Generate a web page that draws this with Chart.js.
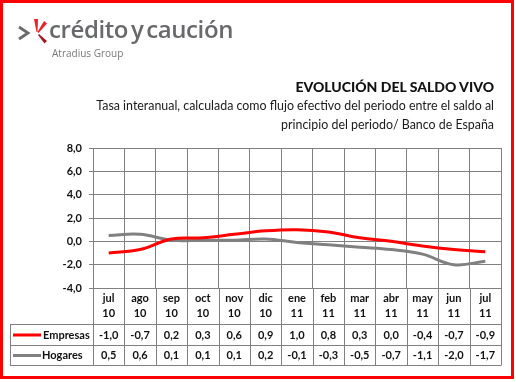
<!DOCTYPE html>
<html>
<head>
<meta charset="utf-8">
<script src="https://cdn.jsdelivr.net/npm/chart.js@4/dist/chart.umd.min.js"></script>
<style>
  html, body { margin: 0; padding: 0; background: #fff; }
  #wrap { position: relative; width: 516px; height: 382px; overflow: hidden; }
  #c { position: absolute; left: 0; top: 0; }
  #frame { position: absolute; left: 0; top: 0; width: 508px; height: 373px; border: 3px solid #ff0000; }
  #logoTxt { position: absolute; left: 49px; top: 13px; font-family: 'Open Sans', sans-serif; font-weight: 600; font-size: 24px; color: #68696b; letter-spacing: -0.4px; word-spacing: -3px; white-space: nowrap; line-height: 32px; }
  #logoSub { position: absolute; left: 52px; top: 46px; font-family: 'Open Sans', sans-serif; font-size: 10px; color: #77787a; white-space: nowrap; line-height: 14px; }
  #logoMark { position: absolute; left: 0; top: 0; }
  #title { position: absolute; right: 22px; top: 78px; font-family: 'Lato', sans-serif; font-weight: 900; font-size: 14px; color: #111; white-space: nowrap; line-height: 18px; text-align: right; }
  #sub { position: absolute; right: 22px; top: 96px; font-family: 'Lato', sans-serif; font-size: 12.4px; color: #1a1a1a; white-space: nowrap; line-height: 19px; text-align: right; }
</style>
</head>
<body>
<div id="wrap">
  <canvas id="c" width="516" height="382"></canvas>
  <svg id="logoMark" width="60" height="50">
    <polyline points="19,27 28,33 19,39" fill="none" stroke="#6a6b6d" stroke-width="2.8"/>
    <polygon points="34,19 38,19 37.5,32 36.5,32" fill="#e8222b"/>
    <polygon points="44,21 47,23.5 38.5,33 37.5,32" fill="#e8222b"/>
    <polygon points="38,35 39,34 47,41 44.5,43.5" fill="#9e1b24"/>
  </svg>
  <div id="logoTxt">crédito y caución</div>
  <div id="logoSub">Atradius Group</div>
  <div id="title">EVOLUCIÓN DEL SALDO VIVO</div>
  <div id="sub">Tasa interanual, calculada como flujo efectivo del periodo entre el saldo al<br>principio del periodo/ Banco de España</div>
  <div id="frame"></div>
</div>
<script>
const categories = [["jul","10"],["ago","10"],["sep","10"],["oct","10"],["nov","10"],["dic","10"],["ene","11"],["feb","11"],["mar","11"],["abr","11"],["may","11"],["jun","11"],["jul","11"]];
const empresas = [-1.0,-0.7,0.2,0.3,0.6,0.9,1.0,0.8,0.3,0.0,-0.4,-0.7,-0.9];
const hogares = [0.5,0.6,0.1,0.1,0.1,0.2,-0.1,-0.3,-0.5,-0.7,-1.1,-2.0,-1.7];
const seriesNames = ["Empresas","Hogares"];
const seriesColors = ["#ff0000","#808080"];
const yTicks = [-4, -2, 0, 2, 4, 6, 8];

const fmt = v => v.toFixed(1).replace('.', ',');
const FONT = 'Lato, sans-serif';
const GRID = '#808080';

const tablePlugin = {
  id: 'dataTable',
  afterDraw(chart) {
    const ctx = chart.ctx;
    const x = chart.scales.x;
    const area = chart.chartArea;
    const n = categories.length;
    const w = (area.right - area.left) / n;
    const r1 = area.bottom + 36, r2 = r1 + 21, r3 = r2 + 20;
    const tableLeft = 10;
    ctx.save();
    ctx.strokeStyle = GRID;
    ctx.lineWidth = 1;
    ctx.beginPath();
    for (let i = 0; i <= n; i++) {
      const px = Math.round(area.left + i * w) + 0.5;
      ctx.moveTo(px, area.bottom);
      ctx.lineTo(px, r3);
    }
    [r1, r2, r3].forEach(yy => { ctx.moveTo(tableLeft, yy + 0.5); ctx.lineTo(area.right + 0.5, yy + 0.5); });
    ctx.moveTo(tableLeft + 0.5, r1); ctx.lineTo(tableLeft + 0.5, r3);
    ctx.stroke();
    const rows = [empresas, hogares];
    const mids = [(r1 + r2) / 2 + 0.5, (r2 + r3) / 2 + 0.5];
    ctx.font = 'bold 11px ' + FONT;
    ctx.textBaseline = 'middle';
    rows.forEach((vals, k) => {
      ctx.strokeStyle = seriesColors[k];
      ctx.lineWidth = 3;
      ctx.beginPath();
      ctx.moveTo(13, mids[k]); ctx.lineTo(41, mids[k]);
      ctx.stroke();
      ctx.fillStyle = '#111';
      ctx.textAlign = 'left';
      ctx.fillText(seriesNames[k], k === 0 ? 43 : 42, mids[k]);
      ctx.textAlign = 'center';
      vals.forEach((v, i) => {
        ctx.fillText(fmt(v), x.getPixelForValue(i), mids[k]);
      });
    });
    ctx.restore();
  }
};

new Chart(document.getElementById('c'), {
  type: 'line',
  data: {
    labels: categories,
    datasets: [
      { label: seriesNames[0], data: empresas, borderColor: seriesColors[0], borderWidth: 3, pointRadius: 0, tension: 0.4, fill: false },
      { label: seriesNames[1], data: hogares, borderColor: seriesColors[1], borderWidth: 3, pointRadius: 0, tension: 0.4, fill: false }
    ]
  },
  options: {
    responsive: false,
    animation: false,
    events: [],
    layout: { padding: { left: 0, top: 148, right: 15, bottom: 0 } },
    plugins: { legend: { display: false }, title: { display: false }, tooltip: { enabled: false } },
    scales: {
      x: {
        offset: true,
        grid: { offset: true, drawTicks: false, color: GRID, lineWidth: 1 },
        border: { color: GRID, width: 1 },
        ticks: { autoSkip: false, maxRotation: 0, padding: 3, color: '#111', font: { family: FONT, weight: 'bold', size: 11, lineHeight: 1.36 } },
        afterFit: s => { s.height = 94; }
      },
      y: {
        min: -4, max: 8,
        afterBuildTicks: s => { s.ticks = yTicks.map(v => ({ value: v })); },
        grid: { color: GRID, lineWidth: 1, tickLength: 4, drawTicks: true },
        border: { color: GRID, width: 1 },
        ticks: { padding: 7, color: '#111', font: { family: FONT, weight: 'bold', size: 11 }, callback: v => fmt(v) },
        afterFit: s => { s.width = 93; }
      }
    }
  },
  plugins: [tablePlugin]
});
</script>
</body>
</html>
